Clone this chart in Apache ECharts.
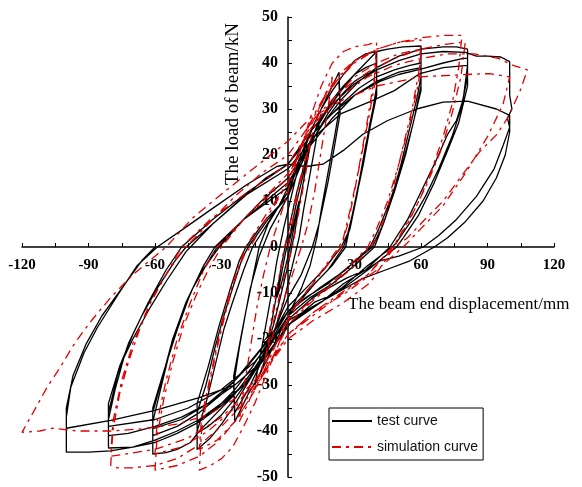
<!DOCTYPE html>
<html>
<head>
<meta charset="utf-8">
<title>hysteresis</title>
<script src="https://cdn.jsdelivr.net/npm/echarts@6/dist/echarts.min.js"></script>
<style>
  html, body { margin: 0; padding: 0; background: #fff; }
  #main { width: 582px; height: 487px; }
</style>
</head>
<body>
<div id="main"></div>
<script>
// axis ticks
var xTicks = [-120, -90, -60, -30, 0, 30, 60, 90, 120];
var yTicks = [-50, -40, -30, -20, -10, 0, 10, 20, 30, 40, 50];
var legendNames = ['test curve', 'simulation curve'];

// test curve, [displacement mm, load kN]
var testSmall = [[0,0],[2,4],[4,8],[5,10],[3,5],[1,0],[-1,-4],[-3,-8],[-5,-11],[-3,-6],[-1,-1],[1,3],
  [4,10],[7,16],[10,22],[8,17],[5,9],[3,3],[0,-4],[-3,-10],[-6,-16],[-9,-21],[-10,-23],[-8,-18],[-5,-10],[-3,-4],[0,3],
  [4,12],[8,19],[12,25],[15,29],[13,24],[10,16],[7,8],[5,2],[2,-4],[-2,-12],[-6,-18],[-10,-24],[-13,-28],[-15,-30],
  [-13,-25],[-10,-17],[-7,-9],[-5,-3],[-2,4]];
var test23 = [[0,8],[4,16],[8,22],[12,27],[16,31],[20,35],[23,38],[23.5,31],[21,24],[18,16],[15,8],[13,2],[10,-4],[6,-9],
  [2,-13],[-3,-18],[-8,-23],[-13,-28],[-18,-32],[-22,-36],[-24,-38],[-24.5,-30],[-22,-22],[-19,-14],[-16,-7],[-13,0],
  [-9,5],[-4,9],[0,13],
  [5,19],[10,25],[15,30],[20,34],[23,36],[23.5,29],[21,22],[18,14],[14,5],[11,0],[6,-6],[0,-11],[-6,-18],[-12,-25],
  [-18,-31],[-24,-36],[-24.5,-28],[-21,-19],[-17,-9],[-13,-2],[-8,4],[0,11]];
var test40 = [[5,19],[10,25],[15,30],[20,34],[25,37.5],[30,40.5],[35,42],[40,42.5],
  [40,35],[38,29],[35,22],[32,14],[29,7],[26,0],[20,-4],[12,-8],[5,-12],[0,-15],
  [-5,-19],[-10,-23],[-15,-27],[-20,-31],[-25,-35],[-30,-38.5],[-35,-41.5],[-41,-44],
  [-41,-40],[-37,-34],[-33,-26],[-29,-18],[-25,-12],[-20,-5],[-16,0],[-8,6],[0,12],
  [5,18],[10,23],[15,28],[20,32],[25,35],[30,37.5],[35,39],[40,40],
  [40,34],[37,27],[34,19],[31,11],[28,4],[25,0],[18,-5],[10,-9],[0,-14],
  [-6,-19],[-12,-24],[-18,-29],[-24,-33],[-30,-36.5],[-36,-39],[-41,-40.5],
  [-41,-36],[-37,-30],[-33,-22],[-29,-15],[-25,-9],[-21,-3],[-18,0],[-9,6],[0,11],
  [6,18],[12,24],[18,29],[24,33],[30,36],[35,37.5],[40,38.5],
  [40,33],[37,26],[34,18],[30,9],[27,3],[24,0],[16,-5],[8,-9],[0,-13],
  [-8,-20],[-16,-26],[-24,-31],[-32,-35],[-41,-38],
  [-41,-34],[-36,-26],[-31,-17],[-26,-9],[-22,-3],[-19,0],[-10,6],[0,11]];
var test60 = [[6,18],[12,25],[18,30],[24,34],[30,37.5],[36,40.5],[40,42.5],[45,43],[52,43.5],[60,43.7],
  [60,37],[58,32],[55,26],[51,18],[47,11],[43,5],[39,0],[30,-4],[20,-8],[10,-11],[0,-15],
  [-8,-21],[-16,-27],[-24,-32],[-32,-36],[-40,-40],[-44,-42.5],[-50,-44],[-55,-44.7],[-61,-45],
  [-61,-38],[-58,-32],[-54,-24],[-49,-16],[-43,-9],[-37,-4],[-32,0],[-22,5],[-12,10],[0,15],
  [8,21],[16,27],[24,31],[32,34.5],[40,37],[48,38.5],[55,39.5],[60,40],
  [60,35],[57,28],[53,20],[48,12],[43,5],[38,0],[28,-4],[18,-8],[8,-11],[0,-14],
  [-10,-21],[-20,-27],[-30,-32],[-40,-36],[-50,-39],[-61,-41],
  [-61,-36],[-57,-29],[-52,-20],[-46,-12],[-40,-6],[-34,-2],[-31,0],[-20,6],[-10,10],[0,14],
  [10,22],[20,28],[30,33],[40,36],[50,38],[60,39],
  [60,34],[56,26],[51,17],[46,10],[41,4],[37,0],[26,-5],[14,-9],[0,-14],
  [-12,-22],[-24,-29],[-36,-34],[-48,-37.5],[-61,-39.5],
  [-61,-35],[-56,-27],[-50,-18],[-44,-10],[-38,-4],[-33,0],[-20,6],[0,13]];
var test80 = [[8,21],[16,27],[24,32],[32,36],[40,39],[50,41.5],[60,43],[70,43.5],[76,43.5],[81,43],
  [81,39.5],[79,32],[76,27.5],[72,24.5],[67,19],[63,15],[58,10],[54,6],[46,0],[35,-5],[25,-8],[15,-12],[5,-15],[0,-17],
  [-10,-24],[-20,-30],[-30,-34.5],[-40,-38],[-50,-40.5],[-60,-42.5],[-70,-43.5],[-81,-43.7],
  [-81,-37.5],[-78,-31],[-74,-24],[-70,-20],[-62,-13],[-55,-7.5],[-46,-1],[-44,0],[-34,5],[-22,10],[-10,15],[0,18],
  [10,24],[20,29],[30,33],[41.5,36],[50,37.5],[60.4,38.7],[70,40],[79,41],[81,41],
  [81,37],[78,30],[74,24],[68,17],[62,11],[56,6],[49,1],[47,0],[36,-4],[24,-9],[12,-13],[0,-17],
  [-12,-25],[-24,-30],[-36,-34],[-48,-37],[-60,-39],[-72,-40.5],[-81,-41],
  [-81,-36],[-77,-28],[-72,-21],[-66,-15],[-59,-9],[-51,-3],[-46,0],[-34,5],[-20,11],[0,17],
  [12,24],[24,29],[37,31.6],[48,34],[59.5,37.7],[70,39],[81,39.5],
  [81,35],[77,27],[72,21],[66,14],[59,7],[52,2],[49,0],[36,-5],[22,-10],[0,-16],
  [-15,-25],[-30,-31],[-45,-35],[-60,-37.5],[-81,-39],
  [-81,-34],[-76,-26],[-70,-19],[-63,-12],[-55,-5],[-48,0],[-34,6],[-18,12],[0,18]];
var test100 = [[10,25],[20,31],[30,35.5],[40,38.5],[50,40.5],[60,42],[70,42.5],[80,42.3],[85,41.5],[90,41.5],[96,41.3],[100,40.3],
  [100,33],[101,30],[99,28],[100,26],[97,22],[93,17],[85,11],[76,6],[68,2.5],[61,0],[50,-2],[41.5,-3],[35,-5],[26.6,-6.7],
  [18,-9],[11.3,-11],[1,-15.4],[-3,-19],
  [-10,-24],[-20,-30],[-30,-34],[-40,-37.5],[-50,-40],[-60,-42],[-70,-43.5],[-80,-44.3],[-90,-44.6],[-100,-44.6],
  [-100,-37],[-98,-30.5],[-92,-23],[-86,-17.5],[-77,-10.6],[-68,-4],[-59,0],[-47,4],[-34,8.4],[-18.5,13.6],[-5,17.5],[0,18],
  [8,17.5],[15.8,18],[25,21],[33.8,24.5],[45,27.5],[58,30],[70,31.5],[81,31.7],[94,30],[100,28.6],
  [100,25],[98,20],[94,15],[88,10],[80,5.5],[72,2],[66,0],[55,-3],[44,-5],[33,-7],[22,-10],[12,-12],[2,-16],[-4,-20],
  [-12,-25],[-24,-30],[-39.7,-32.7],[-60,-35.5],[-80,-37.7],[-100,-39.4],
  [-100,-35],[-97,-28],[-91,-21],[-84,-15],[-75,-9],[-66,-3],[-60,0]];

// simulation curve
var sim20 = [[0,0],[3,8],[6,15],[10,23],[8,16],[5,8],[2,0],[-2,-7],[-6,-15],[-10,-24],[-8,-17],[-5,-9],[-2,-1],[0,3],
  [5,14],[10,23],[15,31],[20,37],[18,30],[15,21],[12,12],[9,5],[6,0],[2,-6],[-3,-13],[-8,-21],[-13,-28],[-18,-34],
  [-22,-38],[-20,-31],[-17,-22],[-14,-13],[-11,-6],[-8,0],[-4,6],[0,12]];
var sim40 = [[5,20],[10,28],[15,35],[20,40],[25,42.5],[30,43.5],[36,44],[40,44.5],
  [39,37],[36,28],[33,20],[30,12],[27,5],[24,0],[16,-5],[8,-10],[0,-16],
  [-5,-22],[-10,-28],[-15,-34],[-20,-39],[-25,-43.5],[-30,-46],[-35,-47.5],[-40,-48.5],
  [-39,-40],[-36,-31],[-32,-22],[-28,-14],[-24,-7],[-20,-2],[-17,0],[-10,6],[0,14],
  [6,22],[12,29],[18,34],[24,38],[30,40.5],[36,42],[40,42.5],
  [39,35],[36,27],[32,17],[28,8],[25,2],[23,0],[14,-6],[0,-15],
  [-8,-24],[-16,-32],[-24,-38],[-32,-42],[-40,-44],
  [-39,-37],[-35,-28],[-31,-19],[-27,-11],[-22,-4],[-19,0],[-10,7],[0,14]];
var sim60 = [[8,24],[16,32],[24,37.5],[32,41],[40,43],[50,44.5],[60,45],
  [59,38],[56,30],[52,22],[48,14],[44,7],[40,2],[37,0],[28,-5],[18,-9],[8,-13],[0,-17],
  [-8,-25],[-16,-32],[-24,-38],[-32,-42.5],[-40,-45.5],[-50,-47.5],[-60,-48.5],
  [-59,-41],[-56,-33],[-52,-25],[-47,-17],[-41,-10],[-36,-5],[-30,0],[-20,6],[-10,11],[0,16],
  [10,25],[20,32],[30,37],[40,40],[50,42],[60,43],
  [59,36],[55,27],[50,18],[45,10],[40,4],[36,0],[24,-6],[12,-11],[0,-16],
  [-12,-27],[-24,-35],[-36,-40],[-48,-43.5],[-60,-45],
  [-59,-38],[-55,-29],[-50,-20],[-44,-12],[-38,-5],[-32,0],[-18,7],[0,15]];
var sim80 = [[10,27],[20,35],[30,40],[40,43],[50,44.5],[60,45.5],[70,46],[78.5,46],
  [77,39],[74,31],[70,24],[65,17],[60,11],[55,6],[50,2],[47,0],[36,-6],[24,-10],[12,-14],[0,-19],
  [-10,-27],[-20,-34],[-30,-39],[-40,-43],[-50,-46],[-60,-47.5],[-70,-48],[-77,-48],[-80,-47.5],
  [-79,-40],[-76,-32],[-72,-25],[-67,-18],[-61,-11],[-55,-6],[-48,-1],[-46,0],[-36,5],[-24,11],[-12,16],[0,20],
  [12,28],[24,34],[36,38],[48,41],[60,43],[70,44],[80,44.6],
  [78,37],[74,29],[69,21],[63,14],[57,8],[51,3],[48,0],[36,-6],[22,-11],[0,-19],
  [-15,-30],[-30,-37],[-45,-41.5],[-60,-44],[-80,-45.5],
  [-79,-38],[-75,-29],[-70,-21],[-63,-13],[-55,-6],[-48,0],[-35,6],[-18,12],[0,18]];
var sim100 = [[12,27],[24,33],[36,37],[48,39.5],[60,41],[72,42],[84,42],[95,41],[101.5,39.5],[108,38.5],
  [104.6,33.8],[99,28],[94.3,24.5],[86.6,20.8],[77.6,15],[70,10],[61,5.6],[53.7,1.9],[48,0],[37,-7.8],[24.4,-12.3],
  [11.3,-16],[0,-20],
  [-12,-28],[-24,-33],[-36,-36.5],[-50,-38.5],[-65,-39.5],[-80,-40],[-95,-40],[-106,-39.4],[-112,-40],[-120,-40.3],
  [-115,-36],[-108.7,-30.5],[-102.8,-26.2],[-97.4,-21.8],[-93.8,-19.3],[-88,-15.6],[-80,-11],[-70,-6],[-60,-2],
  [-55,0],[-43,6.3],[-33.8,10],[-17,16.5],[0,23],
  [10,28],[25,32],[40,35],[60,37],[80,37.5],[91,37.7],[100,37],
  [97,31],[90,24],[80,16],[70,9],[60,4],[52,0],[40,-5],[26,-10],[12,-14],[0,-19]];

var testCurve = testSmall.concat(test23, test40, test60, test80, test100);
var simCurve = sim20.concat(sim40, sim60, sim80, sim100);

var serif = '"Liberation Serif", "Times New Roman", serif';

// grid edges in px; the axes cross at (0,0) and the labels are pulled in to the axis lines
var gridLeft = 22, gridRight = 28, gridTop = 17, gridBottom = 10;
var zeroX = gridLeft + (582 - gridLeft - gridRight) / 2;
var zeroY = gridTop + (487 - gridTop - gridBottom) / 2;

var chart = echarts.init(document.getElementById('main'), null, { renderer: 'canvas' });
var option = {
  backgroundColor: '#fff',
  animation: false,
  grid: { left: gridLeft, right: gridRight, top: gridTop, bottom: gridBottom, outerBoundsMode: 'none' },
  xAxis: {
    type: 'value',
    min: xTicks[0],
    max: xTicks[xTicks.length - 1],
    interval: 30,
    axisLine: { onZero: true, lineStyle: { color: '#000', width: 1.5 } },
    axisTick: { inside: true, length: 4, lineStyle: { color: '#000' } },
    minorTick: { show: true, splitNumber: 2, length: 4, lineStyle: { color: '#000' } },
    splitLine: { show: false },
    axisLabel: {
      margin: (zeroY + 11) - (487 - gridBottom),
      color: '#000',
      fontFamily: serif,
      fontWeight: 'bold',
      fontSize: 15,
      formatter: function (v) { return v === 0 ? '' : v; }
    }
  },
  yAxis: {
    type: 'value',
    min: yTicks[0],
    max: yTicks[yTicks.length - 1],
    interval: 10,
    axisLine: { onZero: true, lineStyle: { color: '#000', width: 1.5 } },
    axisTick: { inside: true, length: 4, lineStyle: { color: '#000' } },
    minorTick: { show: true, splitNumber: 2, length: 4, lineStyle: { color: '#000' } },
    splitLine: { show: false },
    axisLabel: {
      margin: gridLeft - (zeroX - 10),
      color: '#000',
      fontFamily: serif,
      fontWeight: 'bold',
      fontSize: 16
    }
  },
  legend: {
    data: legendNames,
    orient: 'vertical',
    left: 329,
    top: 408,
    backgroundColor: '#fff',
    borderColor: '#000',
    borderWidth: 1,
    padding: [6, 5, 6, 2],
    itemGap: 12,
    itemWidth: 40,
    itemHeight: 14,
    itemStyle: { opacity: 0 },
    textStyle: { color: '#111', fontFamily: '"Liberation Sans", Arial, sans-serif', fontSize: 14 }
  },
  graphic: [
    {
      type: 'text',
      x: 233,
      y: 104,
      rotation: Math.PI / 2,
      style: {
        text: 'The load of beam/kN',
        font: '19px ' + serif,
        fill: '#000',
        textAlign: 'center',
        textVerticalAlign: 'middle'
      }
    },
    {
      type: 'text',
      x: 348,
      y: 305,
      style: {
        text: 'The beam end displacement/mm',
        font: '17px ' + serif,
        fill: '#000',
        textAlign: 'left',
        textVerticalAlign: 'middle'
      }
    }
  ],
  series: [
    {
      name: legendNames[0],
      type: 'line',
      data: testCurve,
      symbol: 'none',
      lineStyle: { color: '#000', width: 1.3 },
      itemStyle: { color: '#000' },
      z: 2
    },
    {
      name: legendNames[1],
      type: 'line',
      data: simCurve,
      symbol: 'none',
      lineStyle: { color: '#e00000', width: 1.3, type: [9, 5, 3, 5] },
      itemStyle: { color: '#e00000' },
      z: 3
    }
  ]
};
chart.setOption(option);
</script>
</body>
</html>
